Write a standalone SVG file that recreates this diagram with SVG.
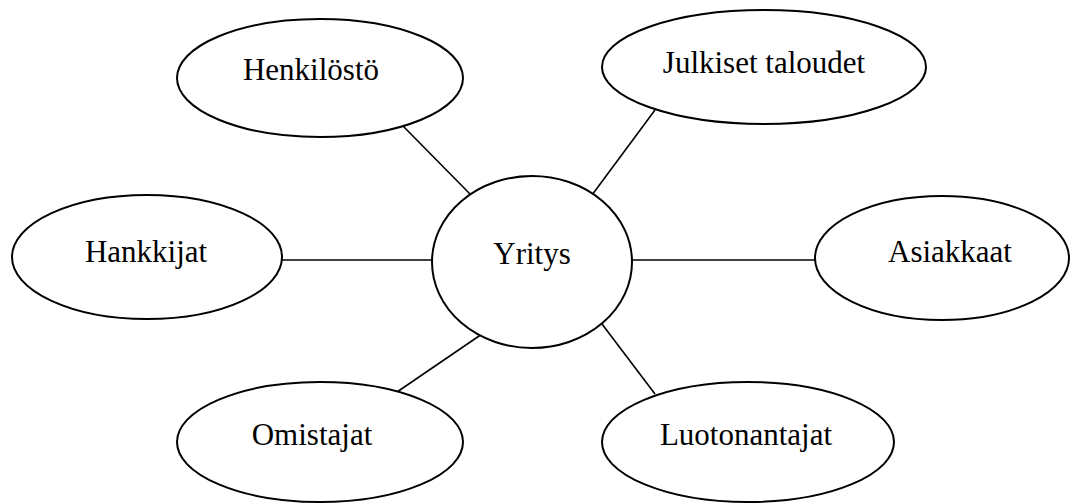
<svg xmlns="http://www.w3.org/2000/svg" width="1072" height="504" viewBox="0 0 1072 504">
<style>
.node ellipse{fill:#fff;stroke:#000;stroke-width:2}
.node text{font-family:"Liberation Serif","Times New Roman",serif;font-size:31px;fill:#000;text-anchor:middle}
#connectors line{stroke:#000;stroke-width:1.6}
</style>
<rect width="1072" height="504" fill="#fff"/>
<g id="connectors">
<line x1="403" y1="126" x2="471" y2="195"/>
<line x1="655" y1="110" x2="592" y2="195"/>
<line x1="282" y1="260" x2="432" y2="260"/>
<line x1="632" y1="260" x2="815" y2="260"/>
<line x1="397" y1="392" x2="482" y2="334"/>
<line x1="602" y1="324" x2="655" y2="394"/>
</g>
<g id="henkilosto" class="node"><ellipse cx="320" cy="78" rx="143" ry="59"/><text x="311" y="80">Henkilöstö</text></g>
<g id="julkiset" class="node"><ellipse cx="764" cy="67" rx="162" ry="57"/><text x="764" y="73">Julkiset taloudet</text></g>
<g id="hankkijat" class="node"><ellipse cx="147" cy="257" rx="135" ry="62"/><text x="146" y="262">Hankkijat</text></g>
<g id="yritys" class="node"><ellipse cx="532" cy="262" rx="100" ry="86"/><text x="532" y="264">Yritys</text></g>
<g id="asiakkaat" class="node"><ellipse cx="942" cy="258" rx="127" ry="62"/><text x="950" y="262">Asiakkaat</text></g>
<g id="omistajat" class="node"><ellipse cx="320" cy="442" rx="143" ry="60"/><text x="312" y="445">Omistajat</text></g>
<g id="luotonantajat" class="node"><ellipse cx="748" cy="442" rx="146" ry="60"/><text x="746" y="445">Luotonantajat</text></g>
</svg>
